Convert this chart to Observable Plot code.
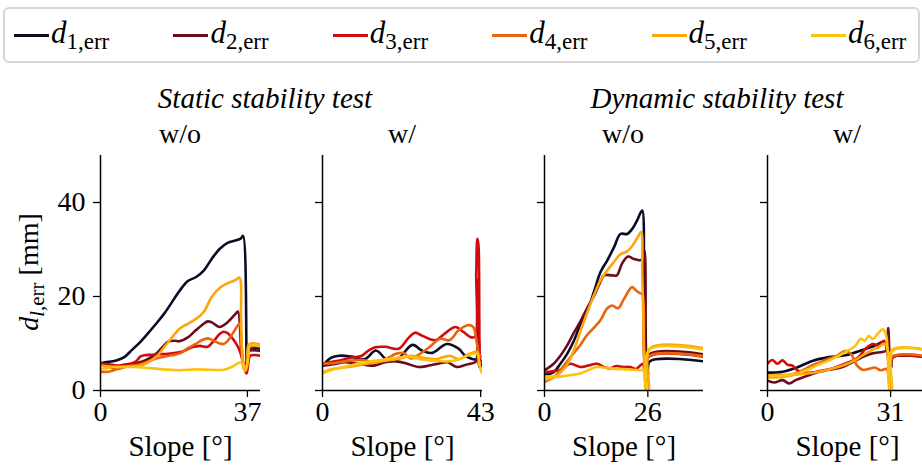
<!DOCTYPE html>
<html><head><meta charset="utf-8">
<script src="https://cdn.jsdelivr.net/npm/d3@7"></script>
<script src="https://cdn.jsdelivr.net/npm/@observablehq/plot@0.6"></script>
<style>
body{margin:0;width:922px;height:474px;overflow:hidden;background:#fff;position:relative;font-family:"Liberation Serif","DejaVu Serif",serif;color:#000;}
.abs{position:absolute;}
.legbox{left:3px;top:7px;width:913px;height:52px;border:2px solid #d6d6d6;border-radius:6px;}
.legline{height:3px;width:35px;}
.legtext{font-size:31px;line-height:30px;white-space:nowrap;}
.legtext i{font-style:italic;}
.legtext .sub{font-size:23px;position:relative;top:6px;}
.title{font-size:29px;line-height:29px;font-style:italic;white-space:nowrap;transform:translateX(-50%);}
.sub2{font-size:28px;line-height:28px;white-space:nowrap;transform:translateX(-50%);}
.ylab{font-size:28px;line-height:28px;white-space:nowrap;transform:translate(-50%,-50%) rotate(-90deg);}
.ylab .sub{font-size:21px;position:relative;top:6px;}
svg{position:absolute;}
</style></head><body>
<script>
// ---------- data ----------
const seriesNames = ["1","2","3","4","5","6"];
const colors = ["#0c0c28","#6b0c1c","#d10a0b","#e9640e","#fca60c","#fdc20f"];
const groupTitles = ["Static stability test","Dynamic stability test"];
const panelTitles = ["w/o","w/","w/o","w/"];
const xTickMax = [37,43,26,31];
const xDomainMax = [40.3,43.5,40,40.3];
const yTicks = [0,20,40];

// Static, w/o
const sWo_d1 = [[0,5.8],[2,6.1],[4,6.4],[6,7.1],[8,8.7],[10,10.3],[12,12.2],[14,14.2],[16,16.3],[18,18.8],[20,21.3],[22,23.3],[24,24.1],[26,25.5],[28,28],[30,30.1],[32,31.4],[34,31.9],[35.3,32.3],[35.9,32.9],[36.9,5.5],[37.3,8.9],[40.3,8.9]];
const sWo_d2 = [[0,5.3],[2,5.0],[4,4.6],[6,5.0],[9,5.7],[12,6.7],[14,7.8],[16,9.6],[17,10.4],[18.5,10.6],[20,10.5],[22,11.3],[24,12.8],[26,14.2],[27,14.7],[28,14.5],[30,13.5],[32,14.5],[34,16.3],[34.6,16.8],[35.5,8],[36.2,4.5],[36.8,6],[37.3,8.4],[40.3,8.4]];
const sWo_d3 = [[0,5.7],[2,5.6],[4,5.3],[6,5.5],[8,5.8],[9,6.2],[10,7.2],[11,7.5],[13,7.6],[15,7.7],[17,7.8],[19,8.0],[21,8.4],[23,9.2],[25,9.5],[27,9.3],[28.5,10.5],[30,12],[31,12.5],[32,12.2],[33.5,10.8],[34.8,9],[35.6,7],[36.3,4.5],[36.8,3.6],[37.3,6.2],[37.7,7.4],[40.3,7.4]];
const sWo_d4 = [[0,4.0],[2,4.0],[4,4.5],[6,5.0],[8,5.3],[10,5.6],[12,6.2],[14,6.8],[16,7.2],[18,7.5],[20,7.9],[22,9.0],[24,9.9],[25.5,10.7],[27,11.1],[28.5,10.6],[30,10.0],[31,9.9],[32,10.5],[33.5,12.4],[35,14.2],[35.5,10],[36.2,5],[36.7,4.5],[37.2,7],[37.6,9.3],[40.3,9.3]];
const sWo_d5 = [[0,5.3],[2,5.1],[4,5.0],[6,5.0],[8,5.1],[10,5.3],[12,6],[14,7.1],[16,9.2],[18,11.3],[20,13.2],[22,14.2],[24,15.2],[26,16.7],[28,19.9],[30,21.8],[32,22.8],[34,23.5],[35,24],[35.4,15],[36,5],[36.5,4.3],[37,6],[37.4,9.8],[40.3,9.8]];
const sWo_d6 = [[0,4.5],[2,4.8],[4,5.0],[8,5.0],[12,4.8],[16,4.5],[20,4.3],[24,4.5],[28,4.4],[31,4.4],[33,5.0],[35.3,6.0],[36,5.6],[36.5,4.2],[37.2,7],[37.6,9.5],[40.3,9.5]];

// Static, w/
const sW_d1 = [[0,5.3],[2.4,7.0],[4.5,7.4],[8,7.2],[11.6,6.7],[14.5,8.5],[18,6.2],[20.5,6.7],[24.5,9.7],[27,8.5],[29.8,8.0],[33.8,9.9],[37,8.9],[38.8,7.4],[40.7,6.7],[42.3,6.4],[42.7,5.0],[43.5,5.5]];
const sW_d2 = [[0,5.3],[3,5.6],[6,6.0],[10,5.6],[14,5.3],[17,6.0],[20,6.2],[23,5.7],[26,5.0],[29,5.3],[32,5.8],[34,6.0],[36.5,5.0],[39,5.5],[41.5,6.0],[41.9,6.5],[42.2,23.5],[42.5,15],[42.8,6.5],[43.5,6.3]];
const sW_d3 = [[0,5.7],[3.4,6.2],[8,7.0],[10.7,7.4],[12.5,8.5],[14.3,9.2],[17.1,9.3],[20.7,8.9],[23.4,11.2],[25.2,12.3],[27,11.7],[30.7,10.7],[33.4,12.2],[36.1,13.5],[38.4,12.4],[40.5,11.3],[41.5,11.5],[41.8,25],[42.1,32.3],[42.4,31],[42.7,10],[43.0,6.0],[43.5,6.0]];
const sW_d4 = [[0,5.7],[3,5.8],[7,6.3],[11,6.5],[14,6.0],[17,6.6],[20,7.8],[22,8.0],[24,6.8],[26.5,7.8],[29,9.2],[32,11.0],[34.5,10.7],[37,12.8],[39.5,13.9],[41,13.5],[42,10],[42.7,7.4],[43.5,7.2]];
const sW_d5 = [[0,3.9],[3,4.6],[8,5.1],[12,5.7],[16,6.2],[20.5,6.7],[24,7.4],[27,7.0],[31,6.7],[34.5,7.4],[37,6.7],[40,7.8],[42,8.2],[42.6,6],[43.2,4],[43.5,3.8]];
const sW_d6 = [[0,3.6],[3,4.5],[6,5.0],[9.5,5.7],[14,6.3],[19,6.8],[23,7.2],[27,6.6],[30.5,6.3],[34,6.2],[37,6.6],[40,7.6],[42,7.8],[42.8,5],[43.5,3.8]];

// Dynamic, w/o
const dWo_d1 = [[0,3.3],[2.3,3.9],[4,5.7],[5.7,7.8],[7.4,10.6],[9.1,14.2],[10.7,16.7],[12.4,20.9],[14.1,25.2],[15.8,27.7],[17.5,30.5],[19.1,33.3],[20.8,33.3],[22.1,34.4],[23.3,36.2],[24.2,37.9],[24.6,38.3],[25.0,20],[25.4,4],[26,3],[26.5,6.2],[40,6.2]];
const dWo_d2 = [[0,4.3],[2.3,5.7],[4,7.4],[5.7,9.6],[7.4,12.3],[9.1,14.8],[10.7,17.5],[12.4,20],[14,23],[15,24.5],[17,24.5],[18.2,24.5],[19.5,27],[21,28.5],[22.5,28],[24,27.7],[24.8,28],[25.2,29.8],[25.5,10],[25.8,2],[26.4,7.7],[40,7.7]];
const dWo_d3 = [[0,3.8],[2,4.1],[4,4.4],[6.5,5.7],[9,5.0],[11,5.3],[13.2,5.7],[15,5.0],[16.5,4.7],[18,5.2],[19.8,5.0],[21.5,5.0],[23.1,4.6],[24.7,5.7],[25.2,4],[25.7,2],[26.3,7.2],[40,7.2]];
const dWo_d4 = [[0,1.8],[2.3,2.8],[4,4.4],[5.7,6.2],[7.4,8.0],[9.1,9.8],[10.7,11.8],[12.4,13.3],[14.1,15],[15.8,17.5],[17,18.1],[18.5,17.5],[20,19.5],[22,22.0],[23,21.3],[24,20.7],[24.6,20.5],[25,8],[25.5,3],[26.3,7.3],[40,7.3]];
const dWo_d5 = [[0,2.2],[2.3,2.8],[4,3.8],[5.7,5.5],[7.4,8.6],[9.1,12.8],[10.7,16.5],[12.4,20.2],[14.1,23.5],[15.8,25.6],[17.5,27.4],[19.1,29.0],[20.8,29.6],[22.1,30.8],[23.3,32.4],[24.3,33.7],[24.6,25],[25.2,5],[25.6,0],[26.2,0],[26.6,9.0],[40,9.0]];
const dWo_d6 = [[0,3.0],[3,2.9],[6,3.2],[9,3.6],[11,4.3],[13,5.0],[15,4.9],[18,4.6],[21,4.5],[24,4.3],[24.8,4.4],[25.3,2],[25.7,0.5],[26.3,8.7],[40,8.7]];

// Dynamic, w/
const dW_d1 = [[0,3.8],[3.8,4.0],[7.1,4.8],[11.3,6.3],[15.5,7.1],[19.7,7.5],[23.9,8.6],[27.2,9.6],[28.9,10.3],[29.9,10],[30.5,8],[31,6],[31.5,7.1],[40.3,7.1]];
const dW_d2 = [[0,2.1],[1.7,1.7],[3.8,2.2],[5.5,1.5],[7.1,2.2],[9.6,3.0],[12.2,3.8],[15.5,4.4],[18.9,5.0],[21.4,6.0],[23.9,7.1],[26.4,7.9],[28.9,8.2],[29.9,8.5],[30.4,13.3],[30.8,7],[31.2,5],[31.6,7.2],[40.3,7.2]];
const dW_d3 = [[0,5.7],[1.2,6.5],[2.5,5.7],[3.8,6.4],[5,5.5],[6.3,5.3],[7.5,4.3],[9,3.9],[11,3.8],[13.5,4.2],[15.5,4.5],[18,5.2],[20.5,6],[23,7.2],[24.7,8.9],[26.5,9.9],[28,9.6],[29.3,10.6],[30,9],[30.6,5],[31.1,2],[31.6,7.0],[40.3,7.0]];
const dW_d4 = [[0,3.2],[2.5,3.3],[5,3.3],[7.5,3.8],[9.5,4.6],[11.3,5.4],[13.3,6.0],[15.5,6.8],[17.5,7.4],[19.5,8.4],[21,7.8],[22.5,5.4],[24,4.4],[25.5,4.6],[27,4.9],[28.5,4.3],[30,4.6],[30.5,3],[31,1],[31.5,7.2],[40.3,7.2]];
const dW_d5 = [[0,2.8],[4,2.9],[7.5,3.4],[10,3.6],[13,4.0],[16,4.6],[19,5.3],[22,6.4],[24,7.5],[26,8.5],[28,9.2],[29.5,10],[30.2,9],[30.7,3],[31,0],[31.4,8.6],[40.3,8.6]];
const dW_d6 = [[0,3.2],[4,3.2],[7.5,3.6],[10,4.4],[12.5,5.4],[15,6.2],[17.5,7.2],[20,8.4],[22,9.4],[23.5,11.0],[24.5,10.6],[25.5,11.6],[26.5,11.0],[28,12.3],[29,13.0],[29.8,12],[30.3,8],[30.8,0],[31.3,0],[31.6,8.5],[40.3,8.5]];

const panels = [
  [sWo_d1,sWo_d2,sWo_d3,sWo_d4,sWo_d5,sWo_d6],
  [sW_d1,sW_d2,sW_d3,sW_d4,sW_d5,sW_d6],
  [dWo_d1,dWo_d2,dWo_d3,dWo_d4,dWo_d5,dWo_d6],
  [dW_d1,dW_d2,dW_d3,dW_d4,dW_d5,dW_d6]
];

// ---------- layout ----------
const FONT = '"Liberation Serif","DejaVu Serif",serif';
const body = document.body;
function el(tag, cls, style, html){
  const e = document.createElement(tag);
  e.className = cls; Object.assign(e.style, style); if (html!=null) e.innerHTML = html;
  body.appendChild(e); return e;
}
el("div","abs legbox",{});
seriesNames.forEach((s,i)=>{
  const lx = 14 + 159.4*i;
  el("div","abs legline",{left:lx+"px",top:"34px",background:colors[i]});
  el("div","abs legtext",{left:(lx+37)+"px",top:"18px"},`<i>d</i><span class="sub">${s},err</span>`);
});
el("div","abs title",{left:"265px",top:"84px"},groupTitles[0]);
el("div","abs title",{left:"717px",top:"84px"},groupTitles[1]);
const panelCenters = [180,402,623,847];
panelTitles.forEach((t,i)=>el("div","abs sub2",{left:panelCenters[i]+"px",top:"120px"},t));
el("div","abs ylab",{left:"30px",top:"272px"},`<i>d</i><span class="sub"><i>l</i>,err</span> [mm]`);

const geo = [
  {left:0,   w:270, ml:100, mr:10},
  {left:270, w:222, ml:52,  mr:10},
  {left:492, w:221, ml:52,  mr:10},
  {left:713, w:224, ml:54,  mr:10}
];

panels.forEach((series,i)=>{
  const rows = [];
  series.forEach((arr,k)=>arr.forEach(([x,y])=>rows.push({x,y,s:seriesNames[k]})));
  const g = geo[i];
  const svg = Plot.plot({
    width: g.w, height: 329,
    marginLeft: g.ml, marginRight: g.mr, marginTop: 10, marginBottom: 84,
    style: {fontFamily: FONT, fontSize:"28px", color:"#000", background:"transparent", overflow:"visible"},
    x: {domain:[0, xDomainMax[i]]},
    y: {domain:[0, 50]},
    color: {domain: seriesNames, range: colors},
    marks: [
      Plot.line(rows, {x:"x", y:"y", z:"s", stroke:"s", strokeWidth:2.6, curve:"catmull-rom", clip:true}),
      Plot.ruleX([0], {stroke:"#000", strokeWidth:1.5}),
      Plot.ruleY([0], {stroke:"#000", strokeWidth:1.5}),
      Plot.axisX({ticks:[0, xTickMax[i]], tickSize:7, tickPadding:4, label:null, fontSize:28, strokeWidth:1.3}),
      Plot.axisY({ticks:yTicks, tickSize:7, tickPadding:8, label:null, fontSize:28, strokeWidth:1.3, tickFormat: i===0 ? (d=>String(d)) : (()=>"")}),
      Plot.text(["Slope [°]"], {frameAnchor:"bottom", dy:65, fontSize:29, text:d=>d})
    ]
  });
  svg.style.left = g.left + "px";
  svg.style.top = "145px";
  svg.style.fontFamily = FONT;
  body.appendChild(svg);
});
</script>
</body></html>
